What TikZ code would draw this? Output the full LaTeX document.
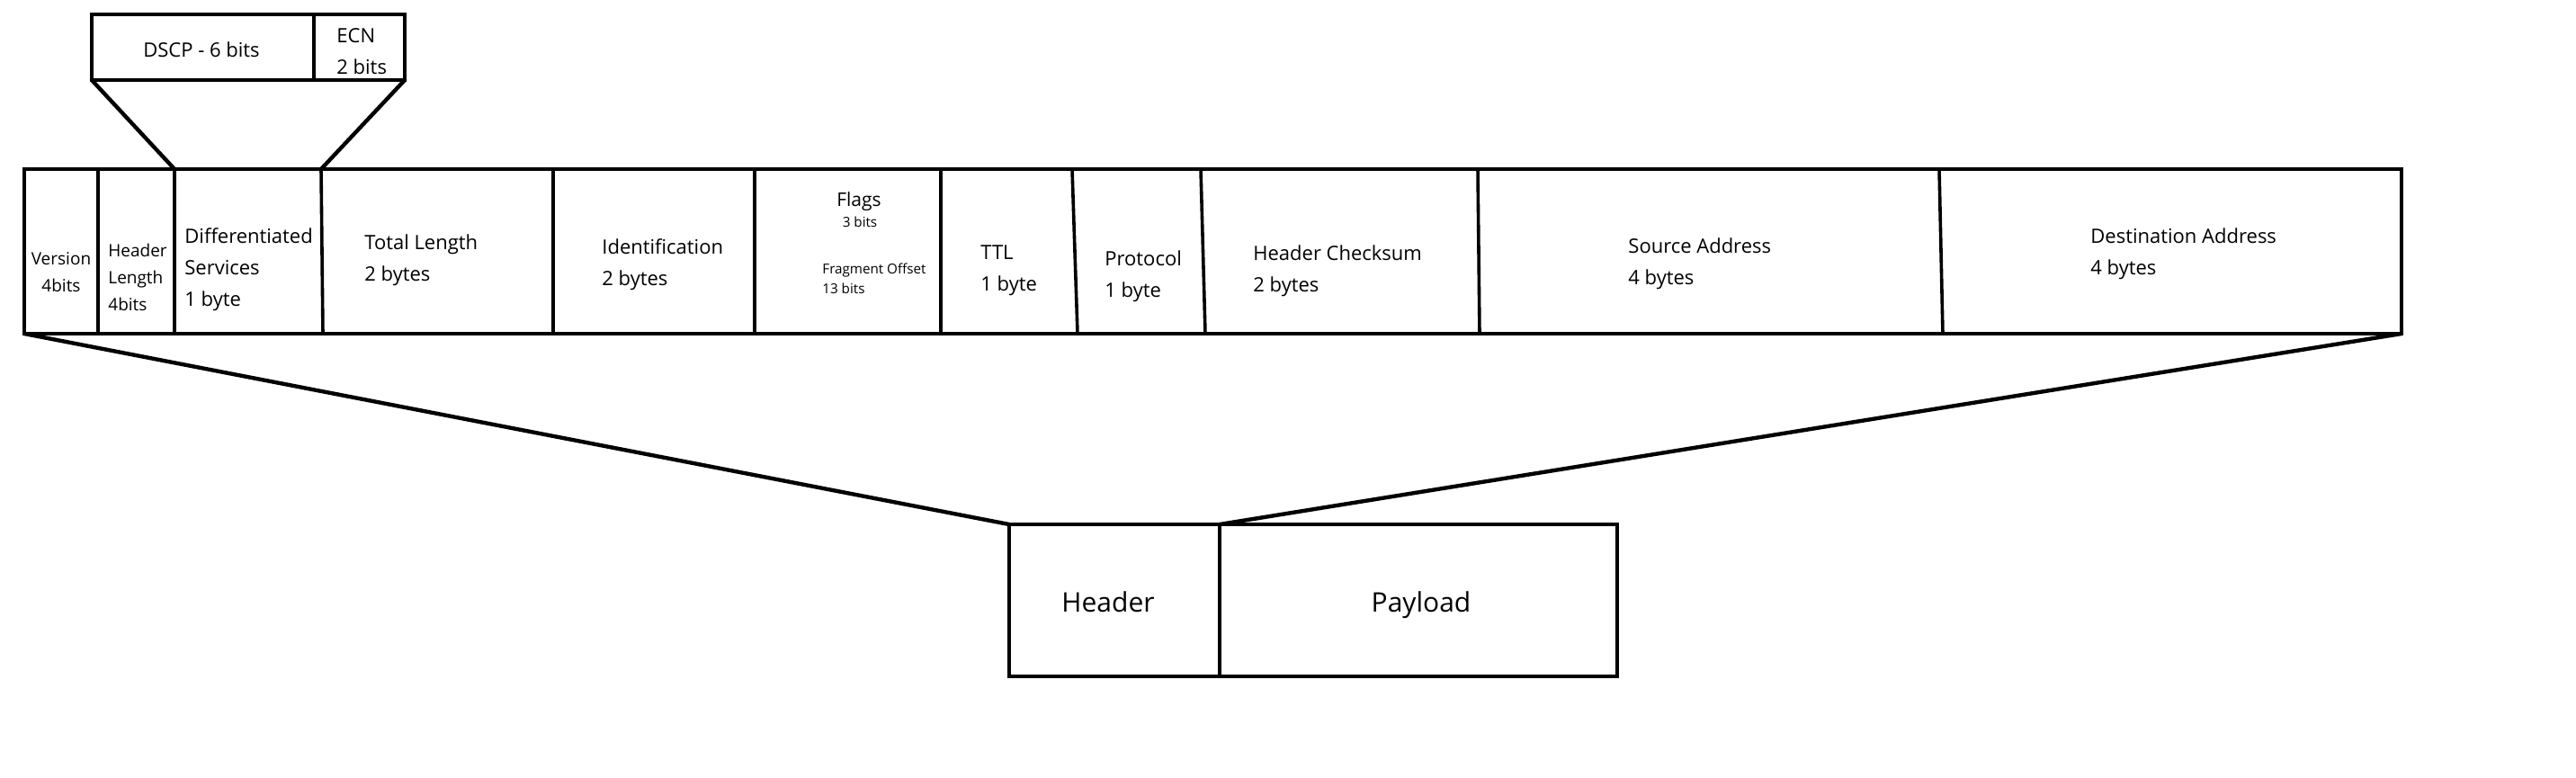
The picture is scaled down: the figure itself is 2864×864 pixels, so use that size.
\documentclass[tikz,border=0pt]{standalone}
\usepackage{fontspec}
\setmainfont{Open Sans}
\begin{document}
\begin{tikzpicture}[x=0.5pt,y=-0.5pt,
  outline/.style={line width=2pt, line join=miter},
  divider/.style={line width=1.8pt},
  link/.style={line width=2.2pt, line cap=round},
  txt/.style={inner sep=0pt, align=left, anchor=west, font=\fontsize{11}{17.5}\selectfont},
  txtv/.style={inner sep=0pt, align=left, anchor=west, font=\fontsize{9.5}{15}\selectfont},
  txts/.style={inner sep=0pt, align=left, anchor=west, font=\fontsize{7.6}{11}\selectfont},
  txtb/.style={inner sep=0pt, anchor=base, font=\fontsize{15}{18}\selectfont}]
\useasboundingbox (0,0) rectangle (2864,864);
% named corners
\coordinate (dsNW) at (102,16);
\coordinate (dsSE) at (450,89);
\coordinate (dsSW) at (102,89);
\coordinate (mainNW) at (27,188);
\coordinate (mainSE) at (2670,371);
\coordinate (mainSW) at (27,371);
\coordinate (dsTop) at (194,188);
\coordinate (tlTop) at (357,188);
\coordinate (pkNW) at (1122,583);
\coordinate (pkSE) at (1798,752);
\coordinate (pkMid) at (1356,583);
% DSCP / ECN box
\draw[outline] (dsNW) rectangle (dsSE);
\draw[divider] (349,16) -- (349,89);
% main header row
\draw[outline] (mainNW) rectangle (mainSE);
\foreach \xa/\xb in {109/109,194/194,357/359,615/615,839/839,1046/1046,1192/1198,1335/1340,1643/1645,2156/2160}
  \draw[divider] (\xa,188) -- (\xb,371);
% expansion lines
\draw[link] (dsSW) -- (dsTop);
\draw[link] (dsSE) -- (tlTop);
\draw[link] (mainSW) -- (pkNW);
\draw[link] (mainSE) -- (pkMid);
% packet box
\draw[outline] (pkNW) rectangle (pkSE);
\draw[divider] (pkMid) -- (1356,752);
% texts
\node[txt, anchor=center] (dscp) at (224,55) {DSCP - 6 bits};
\node[txt] (ecn) at (374,57) {ECN\\2 bits};
\node[txtv, align=center, anchor=center] (ver) at (68,303) {Version\\4bits};
\node[txtv] (hl) at (120,308) {Header\\Length\\4bits};
\node[txt] (dsv) at (205,300) {Differentiated\\Services\\1 byte};
\node[txt] (tl) at (405,289) {Total Length\\2 bytes};
\node[txt] (idf) at (669,294) {Identification\\2 bytes};
\node[txt, font=\fontsize{10.5}{14}\selectfont, anchor=center] (flg) at (955,224) {Flags};
\node[txts, anchor=center] (flgb) at (956,247) {3 bits};
\node[txts] (fo) at (914,310) {Fragment Offset\\13 bits};
\node[txt] (ttl) at (1090,301) {TTL\\1 byte};
\node[txt] (prt) at (1228,307) {Protocol\\1 byte};
\node[txt] (hc) at (1393,301) {Header Checksum\\2 bytes};
\node[txt] (sa) at (1810,293) {Source Address\\4 bytes};
\node[txt] (da) at (2324,282) {Destination Address\\4 bytes};
\node[txtb] (hdr) at (1232,680) {Header};
\node[txtb] (pl) at (1580,680) {Payload};
\end{tikzpicture}
\end{document}
